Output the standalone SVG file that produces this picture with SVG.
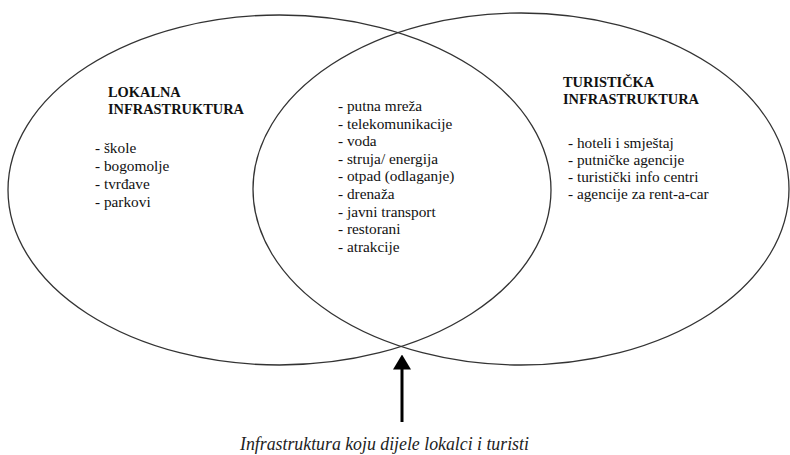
<svg xmlns="http://www.w3.org/2000/svg" width="790" height="455" viewBox="0 0 790 455">
<style>
.ell{fill:none;stroke:#333;stroke-width:1.3}
.h{font-family:"Liberation Serif","Times New Roman",serif;font-weight:bold;font-size:14.4px;fill:#111}
.t{font-family:"Liberation Serif","Times New Roman",serif;font-size:15.3px;fill:#111}
.cap{font-family:"Liberation Serif","Times New Roman",serif;font-style:italic;font-size:17.8px;fill:#222}
</style>
<defs>
<marker id="ah" markerWidth="5" markerHeight="6" refX="0.5" refY="3" orient="auto" markerUnits="strokeWidth">
<path d="M0,0 L5,3 L0,6 Z" fill="#000"/>
</marker>
</defs>
<g id="local">
<ellipse class="ell" cx="279.5" cy="190" rx="271.5" ry="175"/>
<text class="h" x="108" y="97">LOKALNA</text>
<text class="h" x="108" y="114">INFRASTRUKTURA</text>
<text class="t" x="95" y="153">- škole</text>
<text class="t" x="95" y="171">- bogomolje</text>
<text class="t" x="95" y="189">- tvrđave</text>
<text class="t" x="95" y="207">- parkovi</text>
</g>
<g id="tourist">
<ellipse class="ell" cx="521" cy="189" rx="268" ry="176"/>
<text class="h" x="563" y="87">TURISTIČKA</text>
<text class="h" x="563" y="104">INFRASTRUKTURA</text>
<text class="t" x="568" y="148">- hoteli i smještaj</text>
<text class="t" x="568" y="165">- putničke agencije</text>
<text class="t" x="568" y="182">- turistički info centri</text>
<text class="t" x="568" y="199">- agencije za rent-a-car</text>
</g>
<g id="shared">
<text class="t" x="338" y="111">- putna mreža</text>
<text class="t" x="338" y="128.6">- telekomunikacije</text>
<text class="t" x="338" y="146.2">- voda</text>
<text class="t" x="338" y="163.8">- struja/ energija</text>
<text class="t" x="338" y="181.4">- otpad (odlaganje)</text>
<text class="t" x="338" y="199">- drenaža</text>
<text class="t" x="338" y="216.6">- javni transport</text>
<text class="t" x="338" y="234.2">- restorani</text>
<text class="t" x="338" y="251.8">- atrakcije</text>
</g>
<g id="connectors">
<line x1="402" y1="422" x2="402" y2="368" stroke="#000" stroke-width="3" marker-end="url(#ah)"/>
</g>
<g id="caption">
<text class="cap" x="240" y="450">Infrastruktura koju dijele lokalci i turisti</text>
</g>
</svg>
